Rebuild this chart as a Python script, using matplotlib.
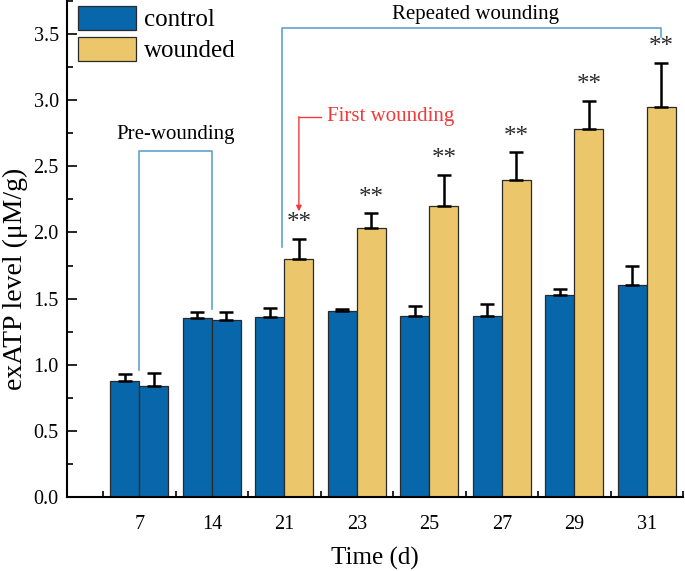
import matplotlib
matplotlib.use("Agg")
import matplotlib.pyplot as plt
from matplotlib.patches import Patch
from matplotlib.ticker import MultipleLocator, FixedLocator
import numpy as np

days = ["7", "14", "21", "23", "25", "27", "29", "31"]
control = [0.877, 1.350, 1.363, 1.408, 1.371, 1.368, 1.529, 1.600]
control_err = [0.055, 0.046, 0.066, 0.013, 0.073, 0.088, 0.043, 0.148]
wounded = [0.841, 1.335, 1.797, 2.031, 2.202, 2.394, 2.784, 2.950]
wounded_err = [0.099, 0.061, 0.153, 0.113, 0.232, 0.211, 0.212, 0.335]
significant = [False, False, True, True, True, True, True, True]
first_wound_index = 2

blue = "#0767aa"
yellow = "#ecc66b"
bracket_c = "#5fa4cc"
red = "#f23a3a"

plt.rcParams['font.family'] = ['Liberation Serif', 'DejaVu Serif']
fig = plt.figure(figsize=(6.85, 5.71), dpi=100)
ax = fig.add_axes([67/685, 74/571, 616/685, 496/571])

x = np.arange(len(days))
w = 0.4
wcolors = [blue if i < first_wound_index else yellow for i in range(len(days))]
ekw = dict(elinewidth=1.8, capthick=1.8, ecolor='black')
ax.bar(x - w/2, control, w, color=blue, edgecolor='#2a2a2a', linewidth=0.9,
       yerr=[np.zeros(len(days)), control_err], capsize=5, error_kw=ekw, zorder=2)
ax.bar(x + w/2, wounded, w, color=wcolors, edgecolor='#2a2a2a', linewidth=0.9,
       yerr=[np.zeros(len(days)), wounded_err], capsize=5, error_kw=ekw, zorder=2)

for i in range(len(days)):
    if significant[i]:
        ax.text(x[i] + w/2, wounded[i] + wounded_err[i] + 0.035, "**",
                ha='center', va='bottom', fontsize=18, color='#2a2a2a')

# Pre-wounding bracket
ax.plot([0, 0, 1, 1], [0.96, 2.615, 2.615, 1.42], color=bracket_c, lw=1.2, zorder=3)
ax.text(0.5, 2.67, "Pre-wounding", ha='center', va='bottom', fontsize=15)

# Repeated wounding bracket
ax.plot([1.97, 1.97, 7.2, 7.2], [1.89, 3.548, 3.548, 3.48], color=bracket_c, lw=1.2, zorder=3)
ax.text(4.63, 3.575, "Repeated wounding", ha='center', va='bottom', fontsize=15)

# First wounding arrow
ax.plot([2.50, 2.2], [2.875, 2.875], color=red, lw=1.0)
ax.annotate("", xy=(2.2, 2.16), xytext=(2.2, 2.875),
            arrowprops=dict(arrowstyle='-|>', color=red, lw=1.0,
                            mutation_scale=8, shrinkA=0, shrinkB=0))
ax.text(2.59, 2.875, "First wounding", ha='left', va='center', fontsize=15, color=red)

ax.set_xlim(-1.0, 7.5)
ax.set_ylim(0, 3.75)
ax.set_xticks(x)
ax.set_xticklabels(days)
ax.xaxis.set_minor_locator(FixedLocator(np.arange(-0.5, 7.6, 1.0)))
ax.yaxis.set_major_locator(MultipleLocator(0.5))
ax.yaxis.set_minor_locator(MultipleLocator(0.25))
ax.yaxis.set_major_formatter(matplotlib.ticker.FormatStrFormatter('%.1f'))
ax.tick_params(which='major', direction='in', length=7, width=1.2, labelsize=14.5, pad=6)
ax.tick_params(which='minor', direction='in', length=4, width=1.2)
ax.tick_params(axis='x', which='major', pad=13)
for s in ['top', 'right']:
    ax.spines[s].set_visible(False)
for s in ['left', 'bottom']:
    ax.spines[s].set_linewidth(1.5)

ax.set_xlabel("Time (d)", fontsize=18)
ax.set_ylabel("exATP level (μM/g)", fontsize=20)
ax.xaxis.set_label_coords(0.5, -0.1)
ax.yaxis.set_label_coords(-0.063, 0.44)

handles = [Patch(facecolor=blue, edgecolor='#2a2a2a', linewidth=0.9),
           Patch(facecolor=yellow, edgecolor='#2a2a2a', linewidth=0.9)]
ax.legend(handles, ["control", "wounded"], loc='upper left',
          bbox_to_anchor=(11/616, 1 - 5/496), borderaxespad=0, borderpad=0,
          frameon=False, fontsize=18, handlelength=2.3, handleheight=1.1,
          handletextpad=0.35, labelspacing=0.2)

fig.savefig("out.png", dpi=100)
